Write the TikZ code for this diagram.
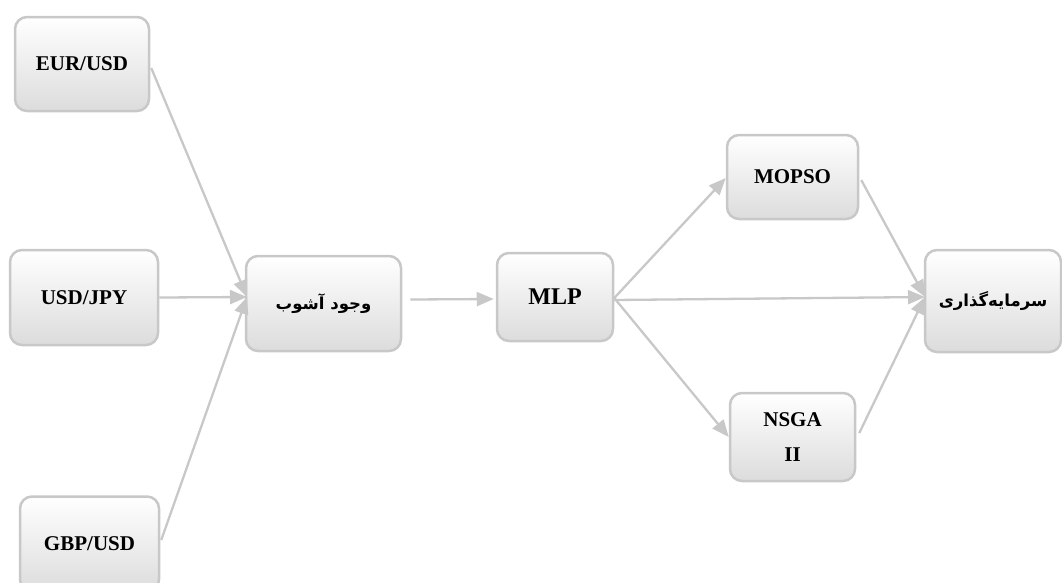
\documentclass[tikz,border=0pt]{standalone}
\usepackage{fontspec}
\setmainfont{Liberation Serif}
\newfontfamily\fa[Script=Arabic]{DejaVu Sans}
\TeXXeTstate=1
\usetikzlibrary{arrows.meta,calc}
\definecolor{edgegray}{RGB}{200,200,200}
\definecolor{boxbot}{RGB}{220,220,220}
\tikzset{
  box/.style={draw=edgegray, line width=2.5pt, rounded corners=12pt, top color=white, bottom color=boxbot,
    align=center, inner sep=0pt, font=\fontsize{21}{25}\selectfont\bfseries},
  fabox/.style={box, font=\fontsize{16.5}{20}\selectfont\bfseries},
  conn/.style={draw=edgegray, line width=2.3pt, -{Triangle[length=17pt,width=14pt]}},
}
\begin{document}
\begin{tikzpicture}[x=1pt,y=-1pt]
\useasboundingbox (0,0) rectangle (1062,582);
\node[box, minimum width=134pt, minimum height=94pt] (eur) at (82,64) {EUR/USD};
\node[box, minimum width=148pt, minimum height=95pt] (jpy) at (84,297.5) {USD/JPY};
\node[box, minimum width=139pt, minimum height=95pt] (gbp) at (89.5,544) {GBP/USD};
\node[fabox, minimum width=155pt, minimum height=95pt] (chaos) at (323.5,303.5) {\fa\beginR وجود آشوب\endR};
\node[box, minimum width=116pt, minimum height=88pt, font=\fontsize{24}{28}\selectfont\bfseries] (mlp) at (555,297) {MLP};
\node[box, minimum width=131pt, minimum height=84pt] (mopso) at (792.5,177) {MOPSO};
\node[box, minimum width=125pt, minimum height=88pt, font=\fontsize{21}{35}\selectfont\bfseries] (nsga) at (792.5,437) {NSGA\\II};
\node[fabox, minimum width=136pt, minimum height=102pt] (inv) at (993,301) {\fa\beginR سرمایه‌گذاری\endR};

\coordinate (cin) at (247,297);
\coordinate (iin) at (925,297);
\draw[conn] ($(eur.east)+(1,4)$) -- (cin);
\draw[conn] ($(jpy.east)+(0,0)$) -- (cin);
\draw[conn] ($(gbp.east)+(1,-4)$) -- (cin);
\draw[conn] ($(chaos.east)+(8,-4)$) -- ($(mlp.west)+(-2,2)$);
\draw[conn] ($(mlp.east)+(0,1)$) -- ($(mopso.west)+(0,1)$);
\draw[conn] ($(mlp.east)+(0,1)$) -- ($(nsga.west)+(0,0)$);
\draw[conn] ($(mlp.east)+(0,3)$) -- (iin);
\draw[conn] ($(mopso.east)+(2,3)$) -- (iin);
\draw[conn] ($(nsga.east)+(3,-4)$) -- (iin);
\end{tikzpicture}
\end{document}
